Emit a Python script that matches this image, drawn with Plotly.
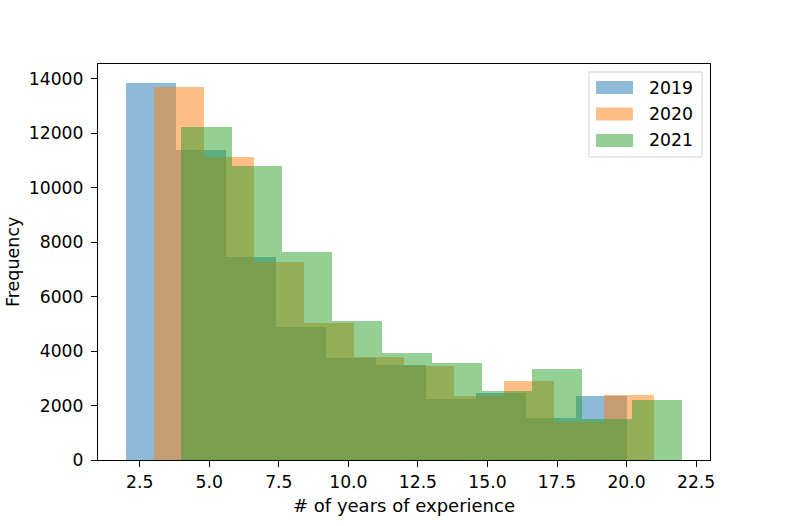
import plotly.graph_objects as go

# bar heights (10 bins each, width 1.8)
years = ["2019", "2020", "2021"]
counts_2019 = [13857, 11393, 7446, 4897, 3746, 3500, 2225, 2445, 1540, 2360]
counts_2020 = [13721, 11121, 7261, 5020, 3770, 3463, 2360, 2900, 1380, 2397]
counts_2021 = [12225, 10816, 7654, 5118, 3917, 3548, 2544, 3327, 1503, 2202]
bin_starts = [2, 3, 4]
bin_width = 1.8
x_ticks = [2.5, 5.0, 7.5, 10.0, 12.5, 15.0, 17.5, 20.0, 22.5]
y_ticks = [0, 2000, 4000, 6000, 8000, 10000, 12000, 14000]

colors = ["#1f77b4", "#ff7f0e", "#2ca02c"]
font = "DejaVu Sans, sans-serif"

fig = go.Figure()
for name, counts, start, color in zip(years, [counts_2019, counts_2020, counts_2021], bin_starts, colors):
    centers = [start + bin_width * (i + 0.5) for i in range(len(counts))]
    fig.add_trace(go.Bar(
        x=centers,
        y=counts,
        width=bin_width,
        name=name,
        marker=dict(color=color, line=dict(width=0)),
        opacity=0.5,
        showlegend=False
    ))

# matplotlib-style legend: wide patches inside a light grey box
pw, ph = 612.0, 396.0  # plot area size in px


def px_x(px):
    return px / pw


def px_y(py):
    return 1 - py / ph


shapes = [dict(
    type="rect", xref="paper", yref="paper",
    x0=px_x(491), x1=px_x(604), y0=px_y(8), y1=px_y(93),
    line=dict(color="#d0d0d0", width=1), fillcolor="rgba(255,255,255,0.8)",
    layer="above"
)]
annotations = []
for i, (name, color) in enumerate(zip(years, colors)):
    cy = 23.5 + i * 26.5
    shapes.append(dict(
        type="rect", xref="paper", yref="paper",
        x0=px_x(498), x1=px_x(535), y0=px_y(cy - 6.5), y1=px_y(cy + 6.5),
        line=dict(width=0), fillcolor=color, opacity=0.5, layer="above"
    ))
    annotations.append(dict(
        x=px_x(549), y=px_y(cy), xref="paper", yref="paper",
        text=name, showarrow=False, xanchor="left", yanchor="middle",
        font=dict(size=17.3, color="black", family=font)
    ))

# y axis title placed like matplotlib's
annotations.append(dict(
    x=px_x(-85), y=0.5, xref="paper", yref="paper",
    text="Frequency", showarrow=False, textangle=-90,
    xanchor="center", yanchor="middle",
    font=dict(size=17.5, color="black", family=font)
))

axis_style = dict(
    showline=True,
    linecolor="black",
    linewidth=1.2,
    mirror=True,
    showgrid=False,
    zeroline=False,
    ticks="outside",
    ticklen=6,
    tickwidth=1.2,
    tickcolor="black",
    tickfont=dict(size=17.2, color="black", family=font),
)

fig.update_layout(
    width=789,
    height=526,
    barmode="overlay",
    bargap=0,
    plot_bgcolor="white",
    paper_bgcolor="white",
    font=dict(family=font, size=17, color="black"),
    margin=dict(l=98, r=79, t=64, b=66),
    xaxis=dict(
        range=[1, 23],
        tickvals=x_ticks,
        tickformat=".1f",
        title=dict(text="# of years of experience", font=dict(size=18), standoff=8),
        **axis_style
    ),
    yaxis=dict(
        range=[0, 14550],
        tickvals=y_ticks,
        tickformat="d",
        ticklabelstandoff=4,
        **axis_style
    ),
    shapes=shapes,
    annotations=annotations,
    showlegend=False
)

# drop the page's default body margin so the figure fills the window
fig.write_html(
    "out.html",
    config={"displayModeBar": False},
    post_script="document.body.style.margin = '0';"
)
